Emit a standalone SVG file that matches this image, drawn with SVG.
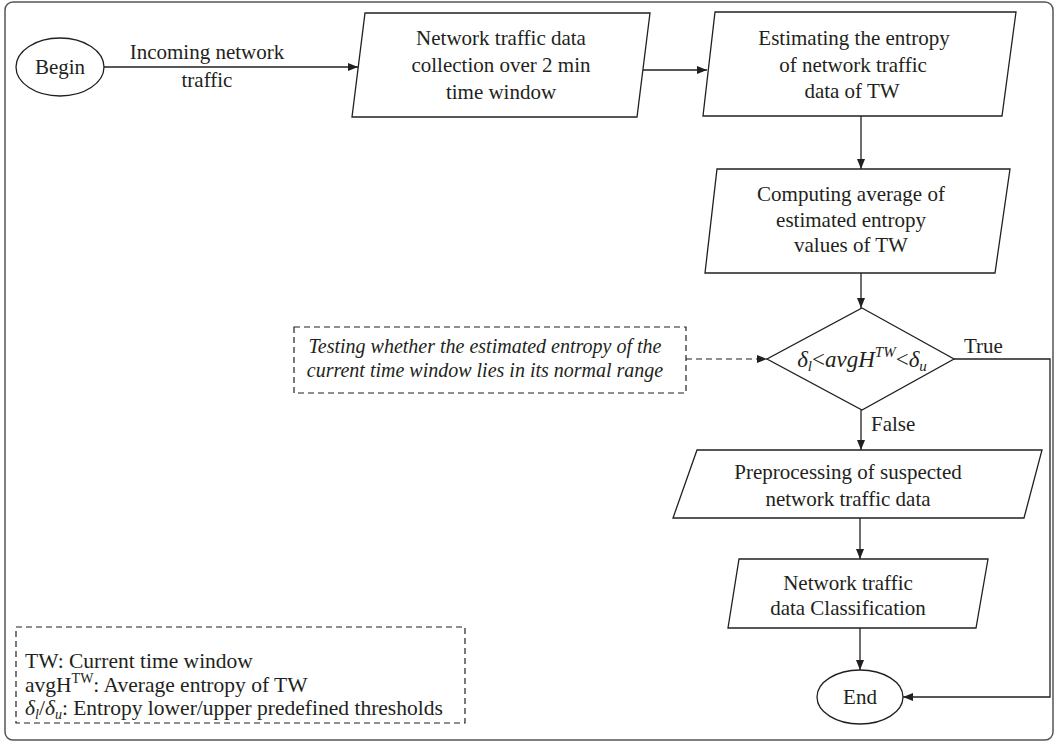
<svg xmlns="http://www.w3.org/2000/svg" width="1058" height="744" viewBox="0 0 1058 744">
<defs>
<marker id="ah" viewBox="0 0 10 8" refX="10" refY="4" markerWidth="10" markerHeight="8" markerUnits="userSpaceOnUse" orient="auto">
<path d="M0,0 L10,4 L0,8 Z" fill="#231f20"/>
</marker>
</defs>
<style>
.shape{fill:#fff;stroke:#231f20;stroke-width:1.3}
.dash{fill:#fff;stroke:#231f20;stroke-width:1.2;stroke-dasharray:6,4}
.line{fill:none;stroke:#231f20;stroke-width:1.3}
.dline{fill:none;stroke:#231f20;stroke-width:1.2;stroke-dasharray:6,4}
text{font-family:"Liberation Serif","Times New Roman",serif;font-size:21px;fill:#231f20}
.c{text-anchor:middle}
.i{font-style:italic}
.sm{font-size:20px}
.lg{font-size:21.5px}
.dm{font-size:23px}
</style>
<rect x="5" y="2" width="1048" height="738" rx="8" ry="8" fill="#fff" stroke="#555" stroke-width="1.5"/>

<g id="connectors">
<line class="line" x1="104" y1="67" x2="358" y2="67" marker-end="url(#ah)"/>
<text class="c" x="207" y="59">Incoming network</text>
<text class="c" x="207" y="87">traffic</text>
<line class="line" x1="643" y1="70" x2="707" y2="70" marker-end="url(#ah)"/>
<line class="line" x1="861" y1="116" x2="861" y2="169" marker-end="url(#ah)"/>
<line class="line" x1="861" y1="273" x2="861" y2="308" marker-end="url(#ah)"/>
<line class="dline" x1="686" y1="359" x2="767" y2="359" marker-end="url(#ah)"/>
<line class="line" x1="861" y1="410" x2="861" y2="450" marker-end="url(#ah)"/>
<text x="871" y="431">False</text>
<polyline class="line" points="954,359 1050,359 1050,697 903,697" marker-end="url(#ah)"/>
<text x="964" y="353">True</text>
<line class="line" x1="860" y1="518" x2="860" y2="559" marker-end="url(#ah)"/>
<line class="line" x1="860" y1="628" x2="860" y2="670" marker-end="url(#ah)"/>
</g>

<g id="begin">
<ellipse class="shape" cx="60" cy="67" rx="44" ry="29"/>
<text class="c" x="60" y="74">Begin</text>
</g>

<g id="collect">
<polygon class="shape" points="365,13 650,13 637,117 352,117"/>
<text class="c" x="501" y="45">Network traffic data</text>
<text class="c" x="501" y="72">collection over 2 min</text>
<text class="c" x="501" y="99">time window</text>
</g>

<g id="estimate">
<polygon class="shape" points="715,12 1016,12 1002,116 703,116"/>
<text class="c" x="854" y="45">Estimating the entropy</text>
<text class="c" x="853" y="72">of network traffic</text>
<text class="c" x="852" y="98">data of TW</text>
</g>

<g id="average">
<polygon class="shape" points="717,169 1010,169 995,273 705,273"/>
<text class="c" x="851" y="201">Computing average of</text>
<text class="c" x="851" y="227">estimated entropy</text>
<text class="c" x="851" y="252">values of TW</text>
</g>

<g id="decision">
<polygon class="shape" points="862,308 954,359 862,410 767,359"/>
<text class="c i dm" x="862" y="367">δ<tspan font-size="15" dy="4">l</tspan><tspan dy="-4" font-style="normal">&lt;</tspan>avgH<tspan font-size="15" dy="-10">TW</tspan><tspan dy="10" font-style="normal">&lt;</tspan>δ<tspan font-size="15" dy="4">u</tspan></text>
</g>

<g id="note">
<rect class="dash" x="294" y="327" width="392" height="66"/>
<text class="c i sm" x="485" y="353">Testing whether the estimated entropy of the</text>
<text class="c i sm" x="485" y="377">current time window lies in its normal range</text>
</g>

<g id="preprocess">
<polygon class="shape" points="697,450 1042,450 1024,518 673,518"/>
<text class="c" x="848" y="479">Preprocessing of suspected</text>
<text class="c" x="848" y="506">network traffic data</text>
</g>

<g id="classify">
<polygon class="shape" points="739,559 988,559 976,628 728,628"/>
<text class="c" x="848" y="590">Network traffic</text>
<text class="c" x="848" y="615">data Classification</text>
</g>

<g id="end">
<ellipse class="shape" cx="860" cy="697" rx="43" ry="27"/>
<text class="c" x="860" y="704">End</text>
</g>

<g id="legend">
<rect class="dash" x="16" y="627" width="449" height="96"/>
<text class="lg" x="25" y="668">TW: Current time window</text>
<text class="lg" x="25" y="692">avgH<tspan font-size="14" dy="-9">TW</tspan><tspan dy="9">: Average entropy of TW</tspan></text>
<text class="lg" x="25" y="715"><tspan font-style="italic">δ</tspan><tspan font-style="italic" font-size="14" dy="4">l</tspan><tspan dy="-4">/</tspan><tspan font-style="italic">δ</tspan><tspan font-style="italic" font-size="14" dy="4">u</tspan><tspan dy="-4">: Entropy lower/upper predefined thresholds</tspan></text>
</g>
</svg>
